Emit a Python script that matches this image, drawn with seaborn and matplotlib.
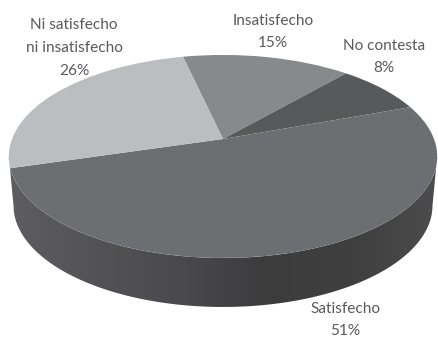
import numpy as np
import seaborn as sns
import matplotlib.pyplot as plt
from matplotlib.path import Path
from matplotlib.patches import PathPatch
from matplotlib.transforms import Transform

sns.set_theme(style='white')
plt.rcParams['font.family'] = ['Lato', 'DejaVu Sans']

# ── Data ──────────────────────────────────────────────────────────────────────

categories = ['Insatisfecho', 'No contesta', 'Satisfecho', 'Ni satisfecho\nni insatisfecho']
shares = [15, 8, 51, 26]
slice_colors = ['#88898c', '#58595b', '#6d6e71', '#bcbdc0']
wall_colors = ['#5e5e60', '#535355', '#4a4a4c', '#3c3c3d', '#3f3f40', '#4c4c4d']
label_pos = [(273, 32), (384, 57), (345, 320), (74, 48)]


# ── Tilted pie: perspective from the unit circle to pixels ───────────────────

class Tilt(Transform):
    input_dims = 2
    output_dims = 2
    has_inverse = False

    def __init__(self, drop=0.0, shrink=1.0):
        super().__init__()
        self.drop = drop
        self.shrink = shrink

    def transform_non_affine(self, values):
        x, y = np.asarray(values).T
        w = 1 + 0.172 * y
        return np.column_stack([
            223 + self.shrink * 211 * x / w,
            139 + self.drop - 98.5 * y / w,
        ])


fig, ax = plt.subplots(figsize=(4.38, 3.38), dpi=100)
fig.subplots_adjust(0, 0, 1, 1)

wedges, _ = ax.pie(shares, startangle=102.8, counterclock=False,
                   colors=sns.color_palette(slice_colors))
for wedge in wedges:
    wedge.set_transform(Tilt() + ax.transData)
    wedge.set_linewidth(0)
    wedge.set_zorder(3)

ax.set_aspect('auto')
ax.set_xlim(0, 438)
ax.set_ylim(338, 0)

# side wall, a horizontal gradient clipped to the rim
theta = np.linspace(np.pi + np.arcsin(0.172), 2 * np.pi - np.arcsin(0.172), 200)
circle = np.column_stack([np.cos(theta), np.sin(theta)])
rim = np.vstack([Tilt().transform(circle),
                 Tilt(drop=49, shrink=0.978).transform(circle)[::-1]])
wall_cmap = sns.blend_palette(wall_colors, as_cmap=True)
wall = ax.imshow(np.linspace(0, 1, 256)[None, :], cmap=wall_cmap, aspect='auto',
                 extent=(8, 438, 338, 0), zorder=2)
wall.set_clip_path(PathPatch(Path(np.vstack([rim, rim[:1]]), closed=True),
                             transform=ax.transData))
ax.set_xlim(0, 438)
ax.set_ylim(338, 0)
ax.axis('off')

# ── Labels ────────────────────────────────────────────────────────────────────

for name, share, (x, y) in zip(categories, shares, label_pos):
    ax.text(x, y, f'{name}\n{share}%', ha='center', va='center', fontsize=11.1,
            color='#5a5a5c', linespacing=1.8, zorder=5)

plt.savefig('out.png', dpi=100)
